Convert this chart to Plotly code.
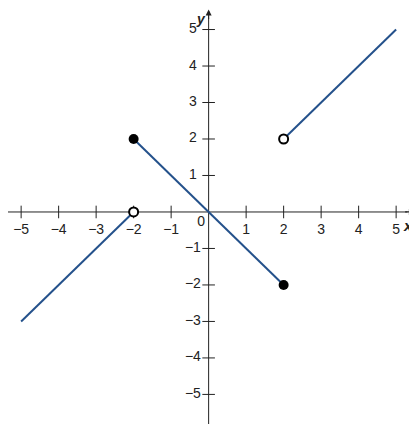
import plotly.graph_objects as go

seg_x = [[-5, -2], [-2, 2], [2, 5]]
seg_y = [[-3, 0], [2, -2], [2, 5]]
closed_x = [-2, 2]; closed_y = [2, -2]
open_x = [-2, 2]; open_y = [0, 2]
ticks = [-5, -4, -3, -2, -1, 1, 2, 3, 4, 5]

C = "#24518b"
K = "#222"
fig = go.Figure()
# axes
fig.add_trace(go.Scatter(x=[-5.6, 5.3], y=[0, 0], mode="lines", line=dict(color=K, width=1), hoverinfo="skip"))
fig.add_trace(go.Scatter(x=[0, 0], y=[-6.1, 5.3], mode="lines", line=dict(color=K, width=1), hoverinfo="skip"))
fig.add_trace(go.Scatter(x=ticks, y=[0]*len(ticks), mode="markers",
                         marker=dict(symbol="line-ns", size=9, line=dict(color=K, width=1))))
fig.add_trace(go.Scatter(x=[0]*len(ticks), y=ticks, mode="markers",
                         marker=dict(symbol="line-ew", size=9, line=dict(color=K, width=1))))
lab = lambda v: str(v).replace("-", "\u2212")
fig.add_trace(go.Scatter(x=ticks, y=[-0.5]*len(ticks), mode="text", text=[lab(t) for t in ticks],
                         textfont=dict(family="Liberation Sans", size=14, color=K)))
fig.add_trace(go.Scatter(x=[-0.42]*len(ticks), y=ticks, mode="text", text=[lab(t) for t in ticks],
                         textfont=dict(family="Liberation Sans", size=14, color=K)))
fig.add_trace(go.Scatter(x=[-0.2], y=[-0.3], mode="text", text=["0"],
                         textfont=dict(family="Liberation Sans", size=14, color=K)))
for sx, sy in zip(seg_x, seg_y):
    fig.add_trace(go.Scatter(x=sx, y=sy, mode="lines", line=dict(color=C, width=2)))
fig.add_trace(go.Scatter(x=closed_x, y=closed_y, mode="markers",
                         marker=dict(size=10, color="black")))
fig.add_trace(go.Scatter(x=open_x, y=open_y, mode="markers",
                         marker=dict(size=9, color="white", line=dict(color="black", width=2))))
# arrowheads
fig.add_annotation(x=5.5, y=0, ax=5.2, ay=0, xref="x", yref="y", axref="x", ayref="y",
                   showarrow=True, arrowhead=2, arrowsize=1, arrowwidth=1.2, arrowcolor=K, text="")
fig.add_annotation(x=0, y=5.55, ax=0, ay=5.25, xref="x", yref="y", axref="x", ayref="y",
                   showarrow=True, arrowhead=2, arrowsize=1, arrowwidth=1.2, arrowcolor=K, text="")
fig.add_annotation(x=5.32, y=-0.38, text="<b><i>x</i></b>", showarrow=False,
                   font=dict(family="Liberation Sans", size=15, color=K))
fig.add_annotation(x=-0.2, y=5.3, text="<b><i>y</i></b>", showarrow=False,
                   font=dict(family="Liberation Sans", size=14, color=K))

fig.update_layout(width=417, height=424, margin=dict(l=0, r=0, t=0, b=0),
                  plot_bgcolor="white", paper_bgcolor="white", showlegend=False,
                  xaxis=dict(range=[-5.35, 5.77], visible=False),
                  yaxis=dict(range=[-6.03, 5.59], visible=False))
fig.write_html("out.html")
